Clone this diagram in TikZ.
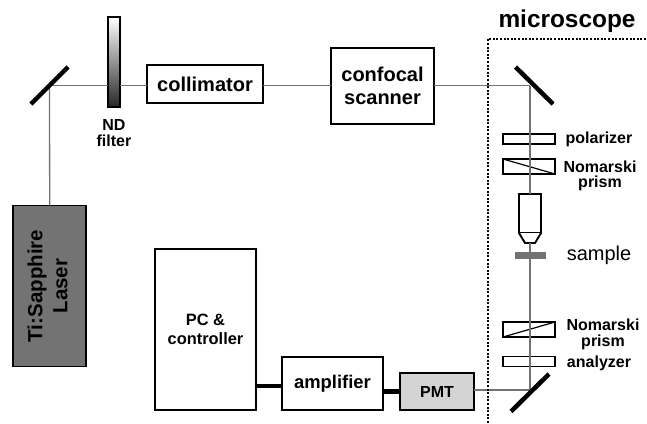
\documentclass[tikz,border=0pt]{standalone}
\usepackage{fontspec}
\setmainfont{Liberation Sans}
\usetikzlibrary{calc}
\begin{document}
\begin{tikzpicture}[x=1pt,y=-1pt]

		\tikzstyle{mybox}=[rectangle,
		draw=black,
		fill=white,
		line width=1.9pt,
		inner sep=0pt,
		outer sep=0pt,
		align=center,
		font=\bfseries
		]
		\tikzstyle{mybeam}=[draw=black!55,line width=1.3pt]
		\tikzstyle{mymirror}=[draw=black,line width=4.5pt]
		\tikzstyle{mywire}=[draw=black,line width=4.5pt]
		\tikzstyle{mylabel}=[align=center,inner sep=0pt,font=\fontsize{16}{15.5}\selectfont\bfseries]

		\useasboundingbox (0,0) rectangle (647,423);

		\coordinate (pfilter) at (114.2, 62);
		\coordinate (pcoll) at (205, 84);
		\coordinate (pscan) at (382.5, 86);
		\coordinate (plaser) at (49.7, 286);
		\coordinate (ppc) at (205.5, 329.5);
		\coordinate (pamp) at (332.5, 383.5);
		\coordinate (ppmt) at (437, 391.5);
		\coordinate (pmirror1) at (49.5, 85.5);
		\coordinate (pmirror2) at (530, 85.5);
		\coordinate (pmirror3) at (530, 390);

		\node[mybox,minimum width=12pt,minimum height=90pt,top color=white,bottom color=black!85] (filter) at (pfilter) {};
		\node[mybox,minimum width=116pt,minimum height=38pt,font=\fontsize{20}{20}\selectfont\bfseries] (coll) at (pcoll) {collimator};
		\node[mybox,minimum width=103pt,minimum height=76pt,font=\fontsize{20}{23}\selectfont\bfseries] (scan) at (pscan) {confocal\\scanner};
		\node[mybox,fill=black!55,minimum width=73pt,minimum height=161pt] (laser) at (plaser) {};
		\node[rotate=90,align=center,inner sep=0pt,font=\fontsize{20.5}{25}\selectfont\bfseries] (lasertext) at (47.5, 286) {Ti:Sapphire\\Laser};
		\node[mybox,minimum width=101pt,minimum height=161pt,font=\fontsize{16.4}{19}\selectfont\bfseries] (pc) at (ppc) {PC \&\\controller};
		\node[mybox,minimum width=101pt,minimum height=53pt,font=\fontsize{18.4}{20}\selectfont\bfseries] (amp) at (pamp) {amplifier};
		\node[mybox,fill=black!17,minimum width=74pt,minimum height=37pt,font=\fontsize{16}{16}\selectfont\bfseries] (pmt) at (ppmt) {PMT};

		\coordinate (mirror1) at (pmirror1);
		\coordinate (mirror2) at (pmirror2);
		\coordinate (mirror3) at (pmirror3);

		\node[mybox,minimum width=52pt,minimum height=10pt] (polarizer) at (529, 139) {};
		\node[mybox,minimum width=52pt,minimum height=15pt] (prism1) at (529, 166.5) {};
		\node[mybox,minimum width=22pt,minimum height=39pt] (objective) at (530, 213.5) {};
		\node[rectangle,fill=black!55,draw=black!55,line width=0.5pt,inner sep=0pt,outer sep=0pt,minimum width=30pt,minimum height=6pt] (sample) at (530, 255) {};
		\node[mybox,minimum width=52pt,minimum height=15pt] (prism2) at (529, 329.5) {};
		\node[mybox,minimum width=52pt,minimum height=10pt] (analyzer) at (529, 361.5) {};
		\coordinate (tip) at (530, 243);

		\draw[mybox] (objective.south west) -- (525, 243) -- (535, 243) -- (objective.south east);
		\draw[line width=1.2pt] (prism1.north west) -- (prism1.south east);
		\draw[line width=1.2pt] (prism2.south west) -- (prism2.north east);

		\draw[mybeam] (laser.north) -- (mirror1);
		\draw[mybeam] (mirror1) -- (filter.west |- mirror1);
		\draw[mybeam] (filter.east |- mirror1) -- (coll.west |- mirror1);
		\draw[mybeam] (coll.east |- mirror1) -- (scan.west |- mirror1);
		\draw[mybeam] (scan.east |- mirror1) -- (mirror2);
		\draw[mybeam] (mirror2) -- (objective.north);
		\draw[mybeam] (tip) -- (sample.north);
		\draw[mybeam] (sample.south) -- (mirror3);
		\draw[mybeam] (mirror3) -- (pmt.east |- mirror3);

		\draw[mymirror] ($(mirror1)+(-18.5,18.5)$) -- ($(mirror1)+(18.5,-18.5)$);
		\draw[mymirror] ($(mirror2)+(-14.5,-18.5)$) -- ($(mirror2)+(23,18.5)$);
		\draw[mymirror] ($(mirror3)+(-19,21.5)$) -- ($(mirror3)+(19,-16)$);

		\draw[mywire] (pc.east |- 0,386) -- (amp.west |- 0,386);
		\draw[mywire] (amp.east |- pmt) -- (pmt.west);

		\draw[line width=1.5pt,dash pattern=on 2pt off 1.6pt] (488, 423) -- (488, 39) -- (647, 39);

		\node[mylabel] (ndlabel) at (114, 133) {ND\\filter};
		\node[mylabel] (polarizerlabel) at (599, 139) {polarizer};
		\node[mylabel] (prism1label) at (600, 176) {Nomarski\\prism};
		\node[inner sep=0pt,font=\fontsize{20}{20}\selectfont] (samplelabel) at (599, 255) {sample};
		\node[mylabel] (prism2label) at (603, 334.5) {Nomarski\\prism};
		\node[mylabel] (analyzerlabel) at (599, 363) {analyzer};
		\node[inner sep=0pt,font=\fontsize{24.4}{24}\selectfont\bfseries] (microscope) at (567, 21) {microscope};

\end{tikzpicture}
\end{document}
